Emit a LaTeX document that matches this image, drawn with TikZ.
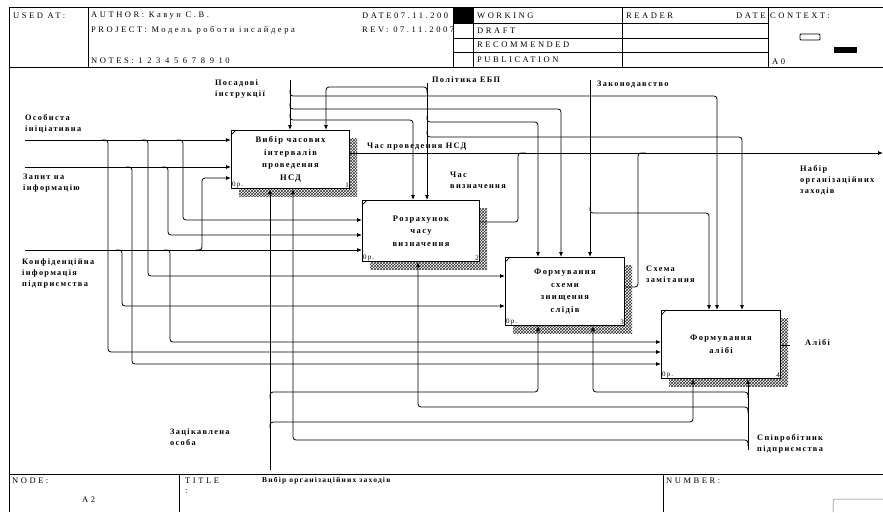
\documentclass[tikz,border=0pt]{standalone}
\usepackage{fontspec}
\setmainfont{Liberation Serif}
\newfontfamily\hf[LetterSpace=30]{Liberation Serif}
\newfontfamily\df[LetterSpace=16]{Liberation Serif}
\usetikzlibrary{arrows.meta,patterns}
\begin{document}
\begin{tikzpicture}[x=1pt,y=-1pt,
  frame/.style={line width=0.9pt},
  conn/.style={line width=0.8pt, rounded corners=3pt},
  arr/.style={conn, -{Latex[length=5pt,width=4pt]}},
  box/.style={draw, line width=1pt, fill=white, anchor=north west, inner sep=0pt, align=center,
     font=\df\bfseries\fontsize{8.5}{12.5}\selectfont},
  shade/.style={pattern=crosshatch, pattern color=black!80},
  lbl/.style={anchor=north west, inner sep=0pt, align=left, font=\df\bfseries\fontsize{8.3}{11}\selectfont},
  hdr/.style={anchor=west, inner sep=0pt, font=\hf\fontsize{8.5}{9}\selectfont},
  tiny/.style={inner sep=1pt, font=\df\fontsize{7}{7}\selectfont}]
\useasboundingbox (0,0) rectangle (883,512);
\fill[white] (0,0) rectangle (883,512);

% ---------- header frame ----------
\draw[frame] (9,7) -- (883,7);
\draw[frame] (9,7) -- (9,512);
\draw[frame] (9,67) -- (883,67);
\draw[frame] (88,7) -- (88,67);
\foreach \xx in {453,473,622,768} \draw[frame] (\xx,7) -- (\xx,67);
\foreach \yy in {23,38,52} \draw[frame] (453,\yy) -- (768,\yy);
\fill (453,7) rectangle (473,23);
\draw[line width=0.8pt, rounded corners=1pt] (800,34) rectangle (820,40);
\fill (834,47) rectangle (857,53);

\node[hdr] (hUsed) at (13,16) {USED AT:};
\node[hdr] (hAuth) at (91,16) {AUTHOR: Кавун С.В.};
\node[hdr] (hProj) at (91,30) {PROJECT: Модель роботи інсайдера};
\node[hdr] (hNotes) at (91,61) {NOTES: 1 2 3 4 5 6 7 8 9 10};
\node[hdr] (hDate) at (362,16) {DATE07.11.200};
\node[hdr] (hRev) at (362,30) {REV: 07.11.2007};
\node[hdr] (hWork) at (477,16) {WORKING};
\node[hdr] (hDraft) at (477,31) {DRAFT};
\node[hdr] (hRec) at (477,45) {RECOMMENDED};
\node[hdr] (hPub) at (477,60) {PUBLICATION};
\node[hdr] (hRead) at (626,16) {READER};
\node[hdr] (hDate2) at (736,16) {DATE};
\node[hdr] (hCtx) at (770,16) {CONTEXT:};
\node[hdr] (hA0) at (772,62) {A0};

% ---------- footer ----------
\draw[frame] (9,474) -- (883,474);
\draw[frame] (179,474) -- (179,512);
\draw[frame] (663,474) -- (663,512);
\draw[line width=0.5pt, black!60, rounded corners=2pt] (833,512) -- (833,499) -- (883,499);
\node[hdr] (fNode) at (12,481) {NODE:};
\node[hdr] (fA2) at (82,500) {A2};
\node[hdr] (fTitle) at (185,481) {TITLE};
\node[hdr] (fColon) at (185,492) {:};
\node[anchor=west, inner sep=0pt, font=\df\bfseries\fontsize{7.5}{8}\selectfont] (fTxt) at (262,481) {Вибір організаційних заходів};
\node[hdr] (fNum) at (666,481) {NUMBER:};

% ---------- shadows ----------
\fill[shade] (239,138) rectangle (357,196);
\fill[shade] (370,208) rectangle (487,269);
\fill[shade] (513,265) rectangle (632,333);
\fill[shade] (669,318) rectangle (788,386);

% ---------- boxes ----------
\node[box, minimum width=118pt, minimum height=58pt] (b1) at (231,130) {Вибір часових\\інтервалів\\проведення\\НСД};
\node[box, minimum width=117pt, minimum height=61pt] (b2) at (362,200) {Розрахунок\\часу\\визначення};
\node[box, minimum width=119pt, minimum height=68pt] (b3) at (505,257) {Формування\\схеми\\знищення\\слідів};
\node[box, minimum width=119pt, minimum height=68pt] (b4) at (661,310) {Формування\\алібі};

\foreach \b/\n in {b1/1,b2/2,b3/3,b4/4} {
  \draw[line width=0.7pt] ([yshift=-5pt]\b.north west) -- ([xshift=5pt]\b.north west);
  \node[tiny, anchor=south west] (\b z) at (\b.south west) {0p.};
  \node[tiny, anchor=south east] (\b n) at (\b.south east) {\n};
}

% ---------- free ends ----------
\coordinate (iOsob) at (25,140);
\coordinate (iZap) at (25,167);
\coordinate (iKonf) at (25,250);
\coordinate (cPos) at (290,80);
\coordinate (cPol) at (427,83);
\coordinate (cZak) at (590,80);
\coordinate (oNab) at (883,153);
\coordinate (mZac) at (270,470);
\coordinate (mSpi) at (748,450);

% ---------- inputs ----------
\draw[arr] (iOsob) -- (b1.west |- iOsob);
\draw[arr] (102,140) -- (108,140) -- (108,352) -- (b4.west |- 0,352);
\draw[arr] (142,140) -- (148,140) -- (148,276) -- (b3.west |- 0,276);
\draw[arr] (177,140) -- (183,140) -- (183,220) -- (b2.west |- 0,220);

\draw[arr] (iZap) -- (b1.west |- iZap);
\draw[arr] (126,167) -- (132,167) -- (132,364) -- (b4.west |- 0,364);
\draw[arr] (162,167) -- (168,167) -- (168,235) -- (b2.west |- 0,235);

\draw[arr] (iKonf) -- (b2.west |- iKonf);
\draw[arr] (116,250) -- (122,250) -- (122,306) -- (b3.west |- 0,306);
\draw[arr] (164,250) -- (170,250) -- (170,342) -- (b4.west |- 0,342);
\draw[arr] (196,250) -- (202,250) -- (202,178) -- (b1.west |- 0,178);

% ---------- controls ----------
\draw[arr] (cPos) -- (b1.north -| cPos);
\draw[arr] (290,90) -- (290,96) -- (717,96) -- (b4.north -| 717,0);
\draw[arr] (290,103) -- (290,109) -- (561,109) -- (b3.north -| 561,0);
\draw[arr] (290,114) -- (290,120) -- (413,120) -- (b2.north -| 413,0);

\draw[arr] (cPol) -- (b2.north -| cPol);
\draw[arr] (427,93) -- (427,87) -- (326,87) -- (b1.north -| 326,0);
\draw[arr] (427,116) -- (427,122) -- (538,122) -- (b3.north -| 538,0);
\draw[arr] (427,131) -- (427,137) -- (742,137) -- (b4.north -| 742,0);

\draw[arr] (cZak) -- (b3.north -| cZak);
\draw[arr] (590,207) -- (590,213) -- (709,213) -- (b4.north -| 709,0);

% ---------- outputs ----------
\draw[arr] (b1.east |- 0,153) -- (oNab);
\draw[conn] (b2.east |- 0,222) -- (518,222) -- (518,153) -- (526,153);
\draw[conn] (b3.east |- 0,287) -- (638,287) -- (638,153) -- (646,153);
\draw[conn] (b4.east |- 0,345) -- (790,345);

% ---------- mechanisms ----------
\draw[arr] (mZac) -- (b1.south -| mZac);
\draw[arr] (270,398) -- (270,392) -- (538,392) -- (b3.south -| 538,0);
\draw[arr] (270,428) -- (270,422) -- (693,422) -- (b4.south -| 693,0);

\draw[arr] (mSpi) -- (b4.south -| mSpi);
\draw[arr] (748,398) -- (748,392) -- (593,392) -- (b3.south -| 593,0);
\draw[arr] (748,413) -- (748,407) -- (418,407) -- (b2.south -| 418,0);
\draw[arr] (748,446) -- (748,440) -- (293,440) -- (b1.south -| 293,0);

% ---------- labels ----------
\node[lbl] (lOsob) at (25,114) {Особиста\\ініціативна};
\node[lbl] (lZap) at (23,174) {Запит на\\інформацію};
\node[lbl] (lKonf) at (22,259) {Конфіденційна\\інформація\\підприємства};
\node[lbl] (lPos) at (215,80) {Посадові\\інструкції};
\node[lbl] (lPol) at (432,77) {Політика ЕБП};
\node[lbl] (lZak) at (597,81) {Законодавство};
\node[lbl] (lChas) at (367,143) {Час проведення НСД};
\node[lbl] (lViz) at (450,172) {Час\\визначення};
\node[lbl] (lNab) at (800,165) {Набір\\організаційних\\заходів};
\node[lbl] (lSkh) at (646,266) {Схема\\замітання};
\node[lbl] (lAlib) at (805,339) {Алібі};
\node[lbl] (lZac) at (170,429) {Зацікавлена\\особа};
\node[lbl] (lSpi) at (757,434) {Співробітник\\підприємства};
\end{tikzpicture}
\end{document}
